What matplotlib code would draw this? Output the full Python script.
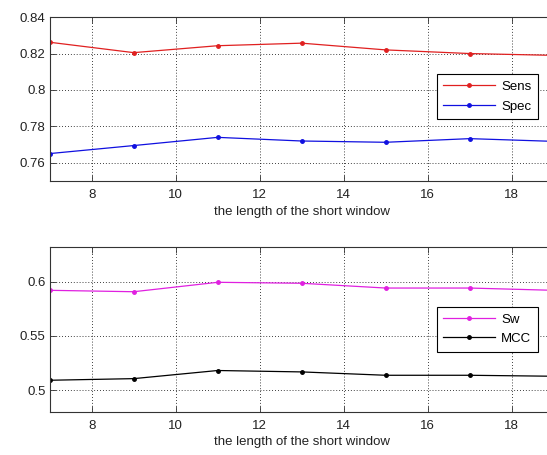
import matplotlib
matplotlib.use('Agg')
from matplotlib import pyplot as plt

# window lengths
window = [7, 9, 11, 13, 15, 17, 19]

# top panel
sens = [0.8262, 0.8205, 0.8243, 0.8257, 0.8220, 0.8200, 0.8190]
spec = [0.7651, 0.7695, 0.7740, 0.7720, 0.7713, 0.7733, 0.7718]

# bottom panel
sw = [0.5920, 0.5907, 0.5994, 0.5985, 0.5941, 0.5941, 0.5920]
mcc = [0.5090, 0.5105, 0.5180, 0.5167, 0.5136, 0.5136, 0.5127]

xticks = [8, 10, 12, 14, 16, 18]
top_yticks = [0.76, 0.78, 0.80, 0.82, 0.84]
top_ylabels = ['0.76', '0.78', '0.8', '0.82', '0.84']
bot_yticks = [0.50, 0.55, 0.60]
bot_ylabels = ['0.5', '0.55', '0.6']

plt.rcParams['font.family'] = ['Liberation Sans', 'DejaVu Sans']
plt.rcParams['font.size'] = 9.5

fig = plt.figure(figsize=(5.47, 4.55), dpi=100)
fig.patch.set_facecolor('white')

ax_w = 504 / 547
ax1 = fig.add_axes([49.7 / 547, 0.602, ax_w, 0.3604])
ax2 = fig.add_axes([49.7 / 547, 0.0952, ax_w, 0.362])


def style(ax, yticks, ylabels, ylim):
    ax.set_xlim(7, 19)
    ax.set_ylim(*ylim)
    ax.set_xticks(xticks)
    ax.set_yticks(yticks)
    ax.set_yticklabels(ylabels)
    ax.grid(True, color='black', linestyle=(0, (1, 2.5)), linewidth=0.6)
    ax.set_axisbelow(True)
    ax.tick_params(direction='in', length=4, top=True, right=True,
                   width=0.6, colors='#333333', labelcolor='#222222')
    ax.tick_params(axis='x', pad=6)
    ax.tick_params(axis='y', pad=3)
    for s in ax.spines.values():
        s.set_linewidth(0.8)
        s.set_color('#333333')
    ax.set_xlabel('the length of the short window', labelpad=3, color='#222222')


ax1.plot(window, sens, color='#e02020', marker='.', markersize=5, linewidth=0.9, label='Sens')
ax1.plot(window, spec, color='#1010e0', marker='.', markersize=5, linewidth=0.9, label='Spec')
style(ax1, top_yticks, top_ylabels, (0.75, 0.84))
leg1 = ax1.legend(loc='upper right', bbox_to_anchor=(0.969, 0.652), borderaxespad=0,
                  fancybox=False, edgecolor='black', framealpha=1,
                  handlelength=3.9, handletextpad=0.5, borderpad=0.5, labelspacing=0.55)
leg1.get_frame().set_linewidth(0.8)

ax2.plot(window, sw, color='#e020e0', marker='.', markersize=5, linewidth=0.9, label='Sw')
ax2.plot(window, mcc, color='black', marker='.', markersize=5, linewidth=0.9, label='MCC')
style(ax2, bot_yticks, bot_ylabels, (0.48, 0.632))
leg2 = ax2.legend(loc='upper right', bbox_to_anchor=(0.969, 0.6375), borderaxespad=0,
                  fancybox=False, edgecolor='black', framealpha=1,
                  handlelength=3.9, handletextpad=0.5, borderpad=0.5, labelspacing=0.55)
leg2.get_frame().set_linewidth(0.8)

plt.savefig('out.png', dpi=100)
